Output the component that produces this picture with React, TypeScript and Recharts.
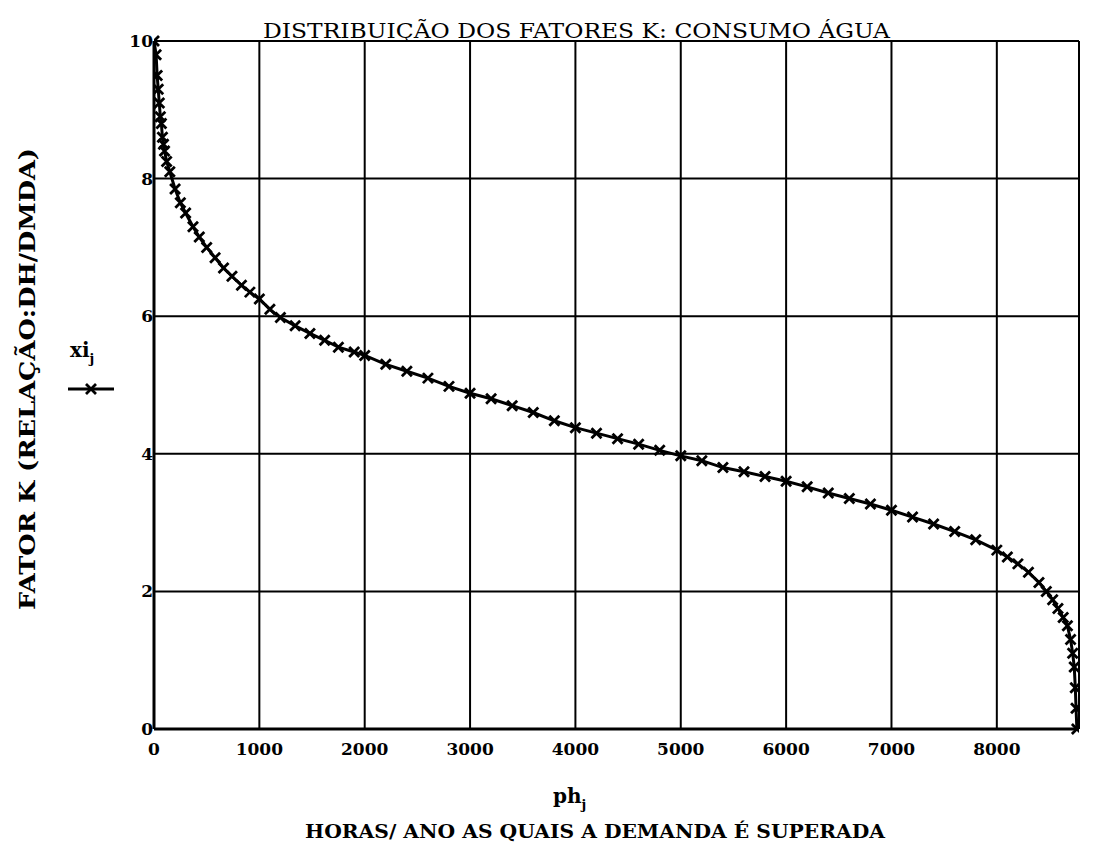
import React from "react";
import { LineChart, Line, XAxis, YAxis, CartesianGrid } from "recharts";

const hours = [
  0, 20, 30, 40, 50, 60, 70, 80, 90, 100, 120, 150, 200, 250, 300, 370, 430, 500, 580, 660,
  740, 830, 910, 1000, 1100, 1200, 1340, 1480, 1620, 1750, 1900, 2000, 2200, 2400, 2600,
  2800, 3000, 3200, 3400, 3600, 3800, 4000, 4200, 4400, 4600, 4800, 5000, 5200, 5400, 5600,
  5800, 6000, 6200, 6400, 6600, 6800, 7000, 7200, 7400, 7600, 7800, 8000, 8100, 8200, 8300,
  8400, 8470, 8530, 8580, 8630, 8670, 8700, 8720, 8735, 8745, 8752, 8760,
];
const fatorK = [
  10.0, 9.8, 9.5, 9.3, 9.1, 8.9, 8.8, 8.6, 8.5, 8.4, 8.25, 8.1, 7.85, 7.65, 7.5, 7.3, 7.15, 7.0, 6.85, 6.7,
  6.58, 6.45, 6.35, 6.25, 6.1, 5.98, 5.86, 5.75, 5.65, 5.55, 5.48, 5.43, 5.3, 5.2, 5.1,
  4.98, 4.88, 4.8, 4.7, 4.6, 4.48, 4.38, 4.3, 4.22, 4.14, 4.05, 3.97, 3.9, 3.8, 3.74,
  3.67, 3.6, 3.52, 3.43, 3.35, 3.27, 3.18, 3.08, 2.98, 2.87, 2.75, 2.6, 2.5, 2.4, 2.28,
  2.13, 2.0, 1.88, 1.75, 1.62, 1.5, 1.3, 1.1, 0.9, 0.6, 0.3, 0.0,
];
const xTicks = [0, 1000, 2000, 3000, 4000, 5000, 6000, 7000, 8000];
const yTicks = [0, 2, 4, 6, 8, 10];
const titleText = "DISTRIBUIÇÃO DOS FATORES K: CONSUMO ÁGUA";
const xLabelText = "HORAS/ ANO AS QUAIS A DEMANDA É SUPERADA";
const yLabelText = "FATOR K (RELAÇÃO:DH/DMDA)";

const data = hours.map((h, i) => ({ h, k: fatorK[i] }));

const W = 1087;
const H = 843;
const FONT = "'DejaVu Serif', serif";

const CrossDot = (props: any) => {
  const { cx, cy, index } = props;
  if (cx == null || cy == null) return <g key={`d${index}`} />;
  const s = 5;
  return (
    <path
      key={`d${index}`}
      d={`M${cx - s},${cy - s}L${cx + s},${cy + s}M${cx - s},${cy + s}L${cx + s},${cy - s}`}
      stroke="#000"
      strokeWidth={2.8}
      fill="none"
    />
  );
};

export default function App() {
  return (
    <div style={{ position: "relative", width: W, height: H, background: "#fff" }}>
      <LineChart width={W} height={H} data={data} margin={{ top: 33, right: 16, bottom: 62, left: 86 }}>
        <CartesianGrid stroke="#000" strokeWidth={2} strokeOpacity={1} />
        <XAxis
          type="number"
          dataKey="h"
          domain={[0, 8780]}
          ticks={xTicks}
          allowDataOverflow
          height={60}
          tickLine={false}
          axisLine={{ stroke: "#000", strokeWidth: 3 }}
          tick={{ fill: "#000", fontSize: 17, fontWeight: "bold", fontFamily: FONT, dy: 6 }}
        />
        <XAxis
          xAxisId="top"
          orientation="top"
          type="number"
          domain={[0, 8780]}
          height={0}
          tick={false}
          tickLine={false}
          axisLine={{ stroke: "#000", strokeWidth: 3 }}
        />
        <YAxis
          type="number"
          domain={[0, 10]}
          ticks={yTicks}
          width={60}
          tickLine={false}
          axisLine={{ stroke: "#000", strokeWidth: 3 }}
          tick={{ fill: "#000", fontSize: 17, fontWeight: "bold", fontFamily: FONT, dx: 7 }}
        />
        <YAxis
          yAxisId="right"
          orientation="right"
          type="number"
          domain={[0, 10]}
          width={0}
          tick={false}
          tickLine={false}
          axisLine={{ stroke: "#000", strokeWidth: 3 }}
        />
        <Line
          type="linear"
          dataKey="k"
          stroke="#000"
          strokeWidth={3}
          dot={CrossDot}
          activeDot={false}
          isAnimationActive={false}
        />
      </LineChart>
      <svg
        width={W}
        height={H}
        style={{ position: "absolute", left: 0, top: 0, pointerEvents: "none" }}
      >
        <text
          x={255}
          y={30}
          fontFamily={FONT}
          fontSize={21}
          fill="#000"
          textLength={627}
          lengthAdjust="spacingAndGlyphs"
        >
          {titleText}
        </text>
        <text
          transform="translate(27,371) rotate(-90)"
          textAnchor="middle"
          fontFamily={FONT}
          fontSize={22}
          fontWeight="bold"
          fill="#000"
          textLength={462}
          lengthAdjust="spacingAndGlyphs"
        >
          {yLabelText}
        </text>
        <text
          x={297}
          y={830}
          fontFamily={FONT}
          fontSize={19}
          fontWeight="bold"
          fill="#000"
          textLength={580}
          lengthAdjust="spacingAndGlyphs"
        >
          {xLabelText}
        </text>
        <text x={545} y={795} fontFamily={FONT} fontSize={20} fontWeight="bold" fill="#000">
          ph
          <tspan fontSize={13} dy={6}>j</tspan>
        </text>
        <text x={62} y={349} fontFamily={FONT} fontSize={20} fontWeight="bold" fill="#000">
          xi
          <tspan fontSize={13} dy={6}>j</tspan>
        </text>
        <line x1={60} y1={381} x2={106} y2={381} stroke="#000" strokeWidth={3} />
        <path d="M78,376L88,386M78,386L88,376" stroke="#000" strokeWidth={2.8} />
      </svg>
    </div>
  );
}
